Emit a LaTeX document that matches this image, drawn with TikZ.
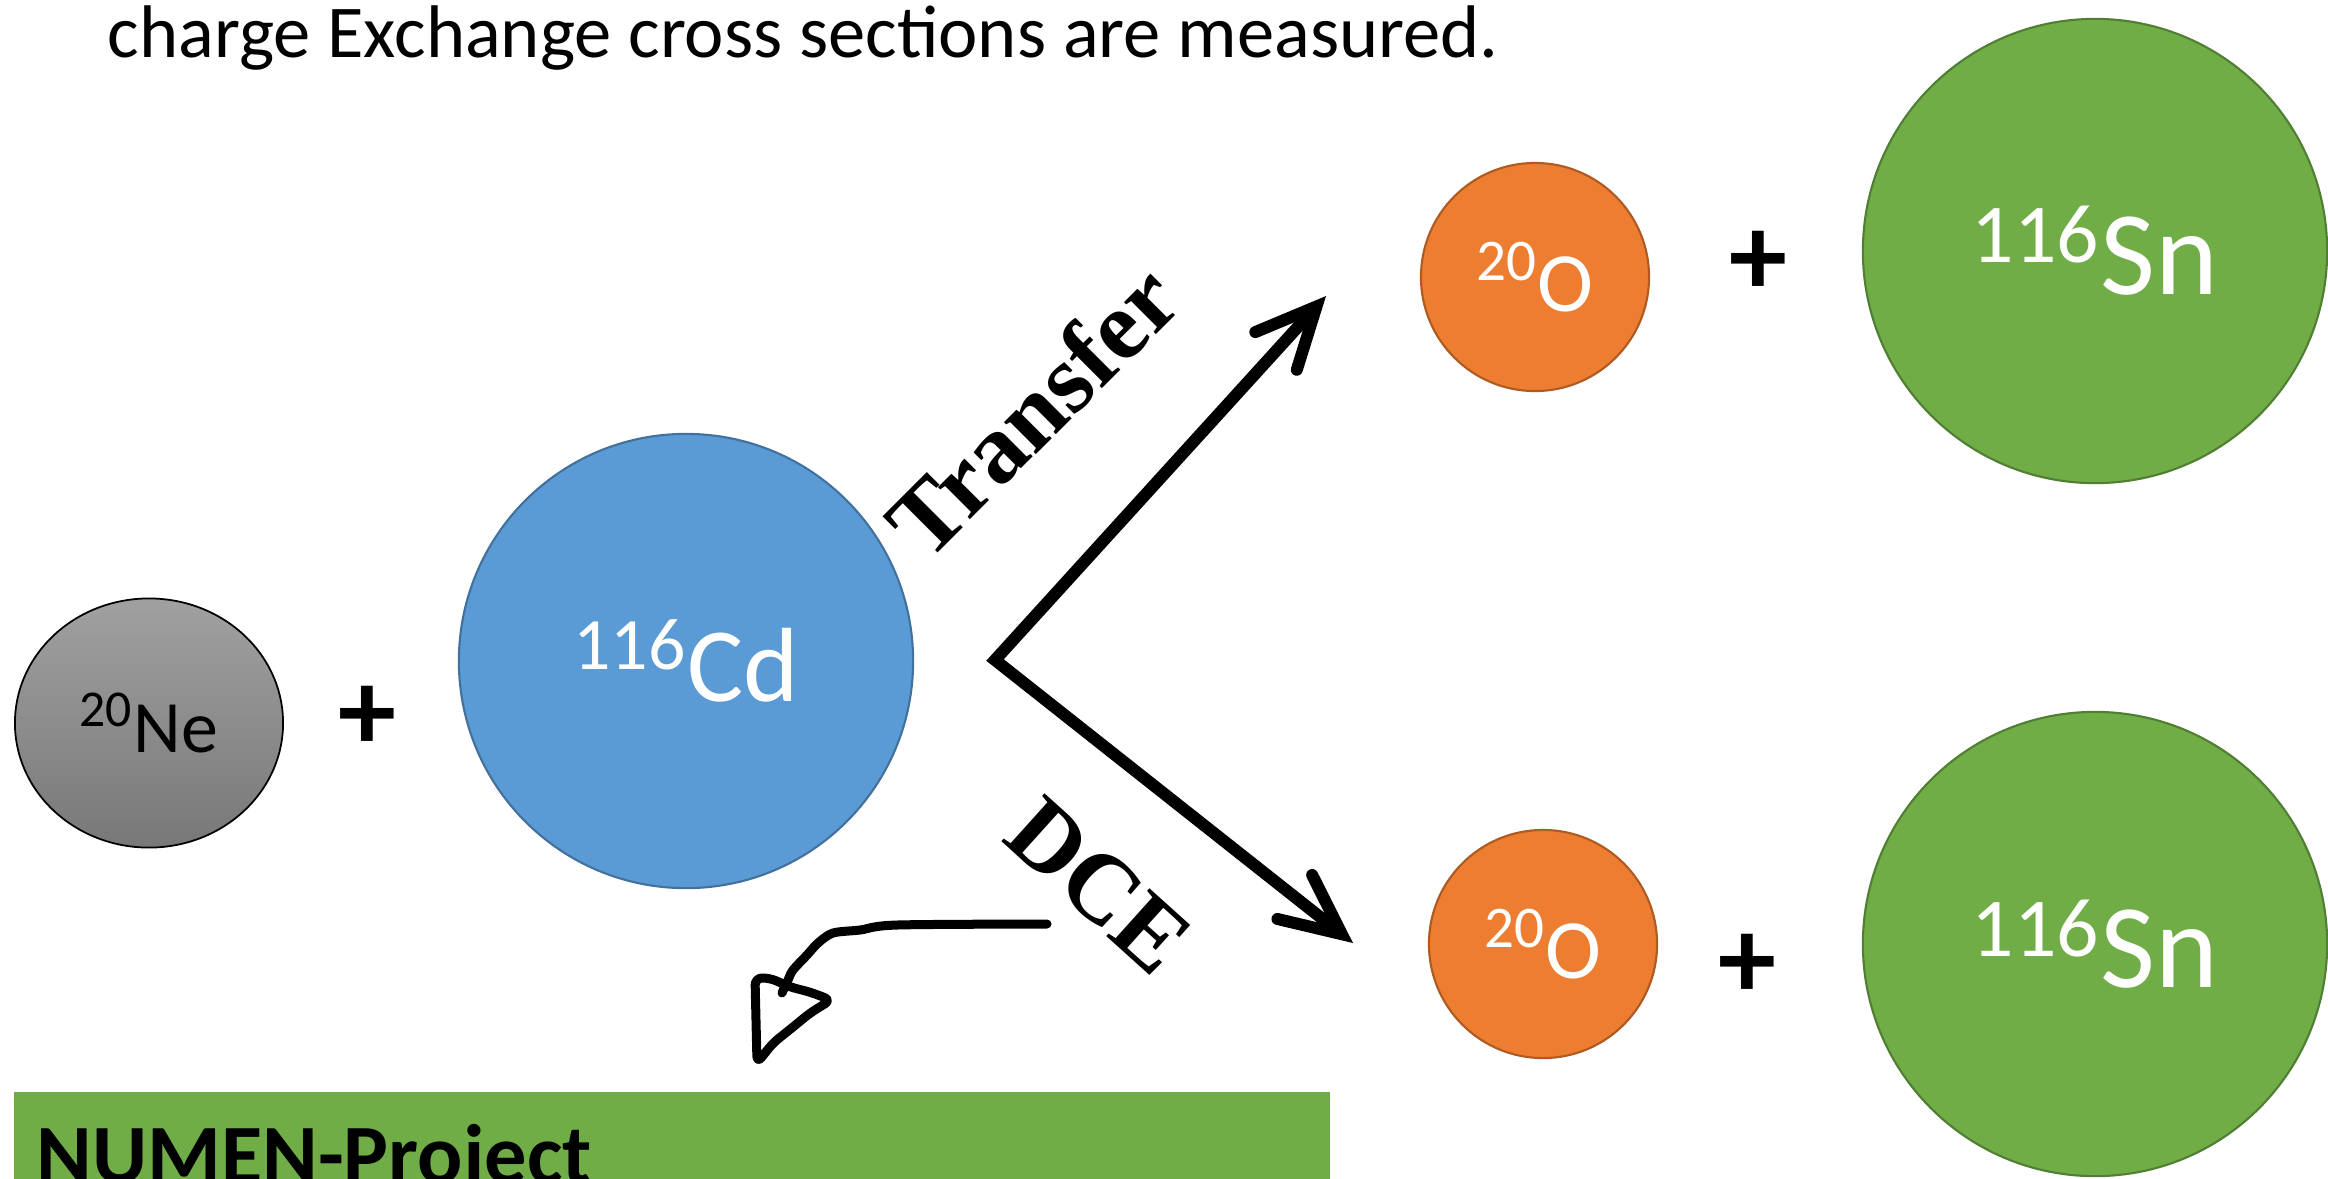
\documentclass[tikz,border=0pt]{standalone}
\usepackage{fontspec}
\setmainfont{Carlito}
\newfontfamily\tnr{Liberation Serif}
\usetikzlibrary{arrows.meta,shapes.geometric}
\definecolor{cdblue}{HTML}{5B9BD5}
\definecolor{cdedge}{HTML}{41719C}
\definecolor{oorange}{HTML}{ED7D31}
\definecolor{oedge}{HTML}{AE5A21}
\definecolor{sngreen}{HTML}{70AD47}
\definecolor{snedge}{HTML}{507E32}
\newcommand{\nuc}[2]{\textsuperscript{#1}#2}
\begin{document}
\begin{tikzpicture}[x=0.01cm, y=-0.01cm, line join=round, line cap=round,
	nucl/.style={circle, inner sep=0pt, text=white, line width=0.6pt},
	plus/.style={inner sep=0pt, font=\fontsize{33}{36}\selectfont\bfseries},
	lbl/.style={inner sep=0pt, font=\tnr\bfseries\fontsize{28}{30}\selectfont},
	barb/.tip={Straight Barb[length=6mm, width=5.6mm, line cap=round, line join=miter]},
	arr/.style={line width=0.12cm, line join=miter, line cap=butt, {barb}-{barb}},
	hand/.style={line width=0.09cm}]
	\useasboundingbox (0,0) rectangle (2328,1178);
	\node[inner sep=0pt, anchor=base west, font=\fontsize{21.2}{25}\selectfont] (head) at (107,57) {charge Exchange cross sections are measured.};
	% Kerne
	\node[ellipse, draw, line width=0.5pt, inner sep=0pt, minimum width=2.68cm, minimum height=2.49cm,
		top color=black!37, bottom color=black!53, font=\fontsize{21}{25}\selectfont] (ne) at (149,723) {\nuc{20}{Ne}};
	\node[nucl, fill=cdblue, draw=cdedge, minimum size=4.54cm, font=\fontsize{30}{34}\selectfont] (cd) at (686,661) {\nuc{116}{Cd}};
	\node[nucl, fill=oorange, draw=oedge, minimum size=2.28cm, font=\fontsize{24}{28}\selectfont] (otop) at (1535,277) {\nuc{20}{O}};
	\node[nucl, fill=oorange, draw=oedge, minimum size=2.28cm, font=\fontsize{24}{28}\selectfont] (obot) at (1543,944) {\nuc{20}{O}};
	\node[nucl, fill=sngreen, draw=snedge, minimum size=4.64cm, font=\fontsize{34}{38}\selectfont] (sntop) at (2095,251) {\nuc{116}{Sn}};
	\node[nucl, fill=sngreen, draw=snedge, minimum size=4.64cm, font=\fontsize{34}{38}\selectfont] (snbot) at (2095,944) {\nuc{116}{Sn}};
	\foreach \n/\x/\y in {pne/367/718, ptop/1758/263, pbot/1747/966}
		\node[plus] (\n) at (\x,\y) {+};
	% Pfeile
	\coordinate (fork) at (995,660);
	\coordinate (trtip) at (1326,296);
	\coordinate (dcetip) at (1353,943);
	\draw[arr] (trtip) -- (fork) -- (dcetip);
	\node[lbl, rotate=45] (transfer) at (1032,410) {Transfer};
	\node[lbl, rotate=-42] (dce) at (1099,886) {DCE};
	\coordinate (handstart) at (1047,924);
	\draw[hand] plot[smooth, tension=0.5] coordinates {(handstart) (897,925) (860,930) (833,933) (818,943) (807,955) (793,970) (788,980) (782,993)};
	\draw[hand, rounded corners=2pt] (755,978) -- (770,978) -- (790,987) -- (810,992) -- (831,1000) -- (810,1013) -- (793,1027) -- (773,1043) -- (757,1063) -- cycle;
	% Balken
	\fill[sngreen] (14,1092) rectangle (1330,1200);
	\node[inner sep=0pt, anchor=base west, font=\fontsize{24}{28}\selectfont\bfseries] (numen) at (36,1183) {NUMEN-Project};
\end{tikzpicture}
\end{document}
